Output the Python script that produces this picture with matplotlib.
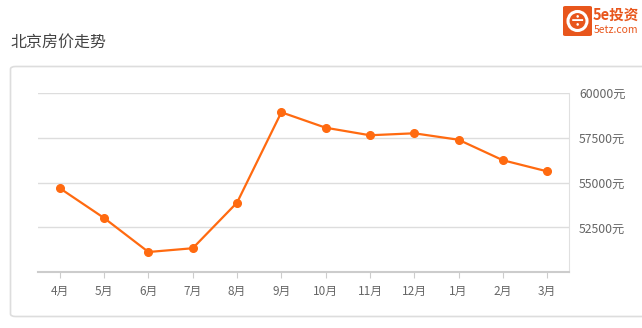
import matplotlib.pyplot as plt
from matplotlib.patches import FancyBboxPatch, Ellipse
import numpy as np

plt.rcParams['font.family'] = ['Noto Sans CJK SC', 'DejaVu Sans']

months = ['4月', '5月', '6月', '7月', '8月', '9月', '10月', '11月', '12月', '1月', '2月', '3月']
prices = [54680, 53020, 51130, 51340, 53880, 58910, 58050, 57630, 57740, 57380, 56240, 55620]
yticks = [50000, 52500, 55000, 57500, 60000]
ytick_labels = ['', '52500元', '55000元', '57500元', '60000元']

W, H = 642, 328
fig = plt.figure(figsize=(W / 100, H / 100), dpi=100, facecolor='white')

# card border
card = FancyBboxPatch((10.5 / W, 1 - 316.5 / H), 660 / W, 250 / H,
                      boxstyle='round,pad=0,rounding_size=0.008',
                      transform=fig.transFigure, facecolor='white',
                      edgecolor='#dddddd', linewidth=1.2, zorder=-5)
fig.patches.append(card)

# title
fig.text(10 / W, 1 - 42 / H, '北京房价走势', fontsize=11.5, color='#444444', va='center', ha='left')

# logo
logo = FancyBboxPatch((563 / W, 1 - 36 / H), 29 / W, 30 / H,
                      boxstyle='round,pad=0,rounding_size=0.004',
                      transform=fig.transFigure, facecolor='#e8561c', edgecolor='none')
fig.patches.append(logo)
fig.patches.append(Ellipse((577.5 / W, 1 - 21 / H), 19 / W, 19 / H, transform=fig.transFigure,
                           facecolor='none', edgecolor='white', linewidth=2.2))
fig.text(577.5 / W, 1 - 21.5 / H, '÷', fontsize=11, color='white', ha='center', va='center',
         fontweight='bold')
fig.text(593 / W, 1 - 15 / H, '5e投资', fontsize=10.5, color='#e8561c', ha='left', va='center',
         fontweight='bold')
fig.text(594 / W, 1 - 30 / H, '5etz.com', fontsize=7.5, color='#e8561c', ha='left', va='center')

# chart
left, right, top, bottom = 37.7, 569.3, 92.7, 272.3
ax = fig.add_axes([left / W, 1 - bottom / H, (right - left) / W, (bottom - top) / H])
ax.patch.set_alpha(0)
x = np.arange(len(months))
ax.plot(x, prices, color='#ff6a10', linewidth=1.6, marker='o', markersize=5.5, zorder=3)

ax.set_xlim(-0.5, len(months) - 0.5)
ax.set_ylim(50000, 60000)
ax.set_yticks(yticks)
ax.set_yticklabels(ytick_labels)
ax.yaxis.tick_right()
ax.tick_params(axis='y', length=0, pad=7, labelsize=8.8, labelcolor='#666666')
ax.set_xticks(x)
ax.set_xticklabels(months)
ax.tick_params(axis='x', length=4, color='#cccccc', pad=5, labelsize=8.5, labelcolor='#666666')
ax.grid(axis='y', color='#dddddd', linewidth=1)
ax.set_axisbelow(True)

for s in ['left', 'top']:
    ax.spines[s].set_visible(False)
ax.spines['right'].set_color('#e0e0e0')
ax.spines['bottom'].set_color('#cccccc')
ax.spines['bottom'].set_linewidth(1.5)

fig.savefig('out.png', dpi=100)
